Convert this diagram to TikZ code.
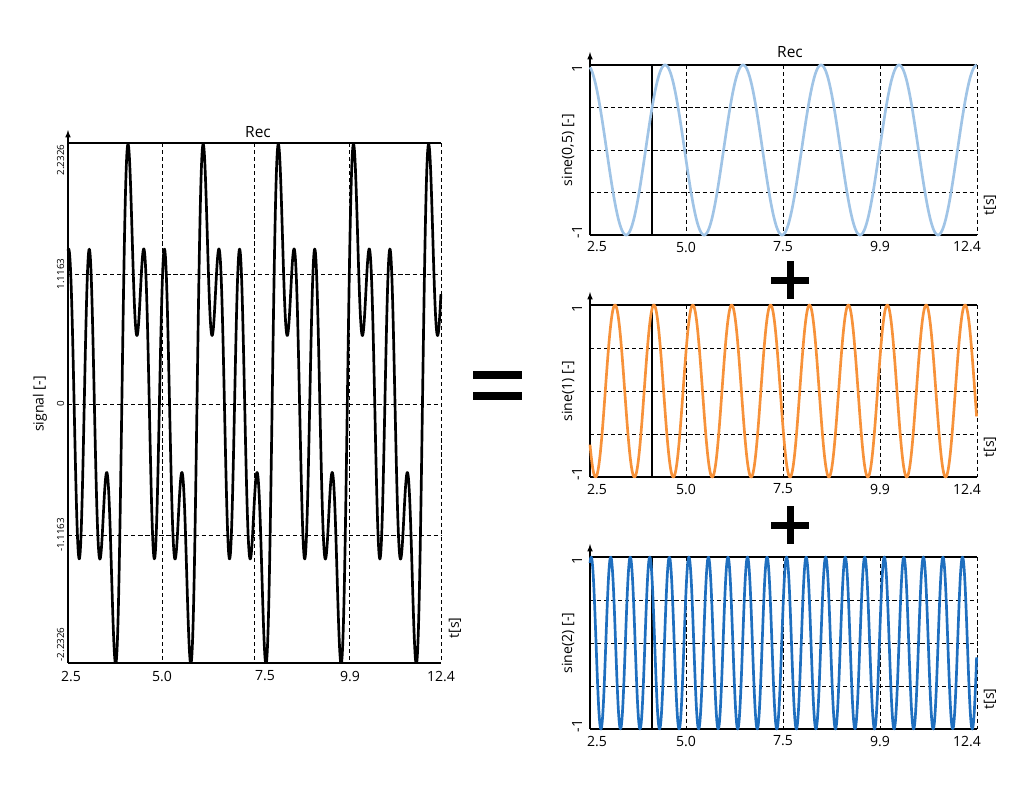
\documentclass[tikz,border=0pt]{standalone}
\usepackage{fontspec}
\setmainfont{Open Sans}
\definecolor{lightblue}{RGB}{160,196,230}
\definecolor{orange}{RGB}{247,146,58}
\definecolor{darkblue}{RGB}{31,111,191}
\tikzset{>=latex}
\tikzset{
  gridline/.style = {densely dashed, line width=0.6pt},
  frameline/.style = {line width=0.8pt},
  curve/.style = {line width=1.9pt, line join=round},
  ticklabel/.style = {font=\fontsize{10}{12}\selectfont, inner sep=1pt},
  axlabel/.style = {font=\fontsize{10}{12}\selectfont, rotate=90, inner sep=1pt}
}
\begin{document}
\begin{tikzpicture}[x=0.025cm,y=-0.025cm]
  \useasboundingbox (0,0) rectangle (1024,804);
  \pgfmathsetmacro{\pa}{0.2015}       % period of sine(0,5)
  \pgfmathsetmacro{\pb}{0.1005}       % period of sine(1)
  \pgfmathsetmacro{\pc}{0.0505}       % period of sine(2)
  \pgfmathsetmacro{\ua}{1.0}          % peak of sine(0,5)
  \pgfmathsetmacro{\ub}{0.0646}       % peak of sine(1)
  \pgfmathsetmacro{\uc}{0.0535}       % peak of sine(2)
  \pgfmathsetmacro{\us}{0.161}        % big peak of signal
  % left plot: signal
  \draw[frameline,->] (68,663) -- (68,130);
  \draw[frameline] (68,143) -- (441,143);
  \draw[frameline] (68,663) -- (441,663);
  \foreach \yy in {274,404,535} \draw[gridline] (68,\yy) -- (441,\yy);
  \foreach \xx in {162,254,349,441} \draw[gridline] (\xx,143) -- (\xx,663);
  \begin{scope}
    \clip (60,143) rectangle (450,663);
    \draw[curve,black] plot[domain=0:1,samples=1000,variable=\u]
      ({68+373*\u},{404-260/2.2326*(sin(29.8+360*(\u-\us)/\pa)+sin(2*(29.8+360*(\u-\us)/\pa))+sin(4*(29.8+360*(\u-\us)/\pa)))});
  \end{scope}
  \foreach \xx/\lab in {71/2.5,162/5.0,265/7.5,350/9.9,441/12.4}
    \node[ticklabel] (lt\xx) at (\xx,676) {\lab};
  \node[axlabel,font=\fontsize{7}{8}\selectfont,anchor=south east] (ly143) at (66,143) {2.2326};
  \node[axlabel,font=\fontsize{7}{8}\selectfont,anchor=south] (ly274) at (66,274) {1.1163};
  \node[axlabel,font=\fontsize{7}{8}\selectfont,anchor=south] (ly404) at (66,404) {0};
  \node[axlabel,font=\fontsize{7}{8}\selectfont,anchor=south] (ly535) at (66,535) {-1.1163};
  \node[axlabel,font=\fontsize{7}{8}\selectfont,anchor=south west] (ly663) at (66,663) {-2.2326};
  \node[axlabel] (lsig) at (40,404) {signal [-]};
  \node[axlabel] (lts) at (455,628) {t[s]};
  \node[ticklabel,font=\fontsize{11}{13}\selectfont] (lrec) at (258,132) {Rec};
  % equals sign
  \fill (473,371) rectangle (522,379);
  \fill (473,392) rectangle (522,400);
  % right plots
  \foreach \top/\bot/\col/\lab/\pp/\up in {65/235/lightblue/{sine(0,5) [-]}/\pa/\ua,
                                           305/477/orange/{sine(1) [-]}/\pb/\ub,
                                           557/729/darkblue/{sine(2) [-]}/\pc/\uc}{
    \pgfmathsetmacro{\mid}{(\top+\bot)/2}
    \pgfmathsetmacro{\hh}{(\bot-\top)/2}
    \draw[frameline,->] (590,\bot) -- (590,\top-13);
    \draw[frameline] (590,\top) -- (977,\top);
    \draw[frameline] (590,\bot) -- (977,\bot);
    \foreach \f in {0.25,0.5,0.75} \draw[gridline] (590,{\top+\f*(\bot-\top)}) -- (977,{\top+\f*(\bot-\top)});
    \foreach \xx in {686,783,880,977} \draw[gridline] (\xx,\top) -- (\xx,\bot);
    \draw[frameline] (652,\top) -- (652,\bot);
    \draw[curve,\col] plot[domain=0:1,samples=700,variable=\u]
      ({590+387*\u},{\mid-\hh*cos(360*(\u-\up)/\pp)});
    \foreach \xx/\tl in {597/2.5,686/5.0,783/7.5,880/9.9,967/12.4}
      \node[ticklabel] at (\xx,\bot+12) {\tl};
    \node[axlabel] at (577,\top+3) {1};
    \node[axlabel] at (577,\bot-3) {-1};
    \node[axlabel] at (568,\mid) {\lab};
    \node[axlabel] at (990,\bot-30) {t[s]};
  }
  \node[ticklabel,font=\fontsize{11}{13}\selectfont] (rrec) at (790,52) {Rec};
  % plus signs
  \foreach \yy in {280,525} {
    \fill (771,{\yy-3.5}) rectangle (809,{\yy+3.5});
    \fill (786.5,{\yy-19}) rectangle (793.5,{\yy+19});
  }
\end{tikzpicture}
\end{document}
